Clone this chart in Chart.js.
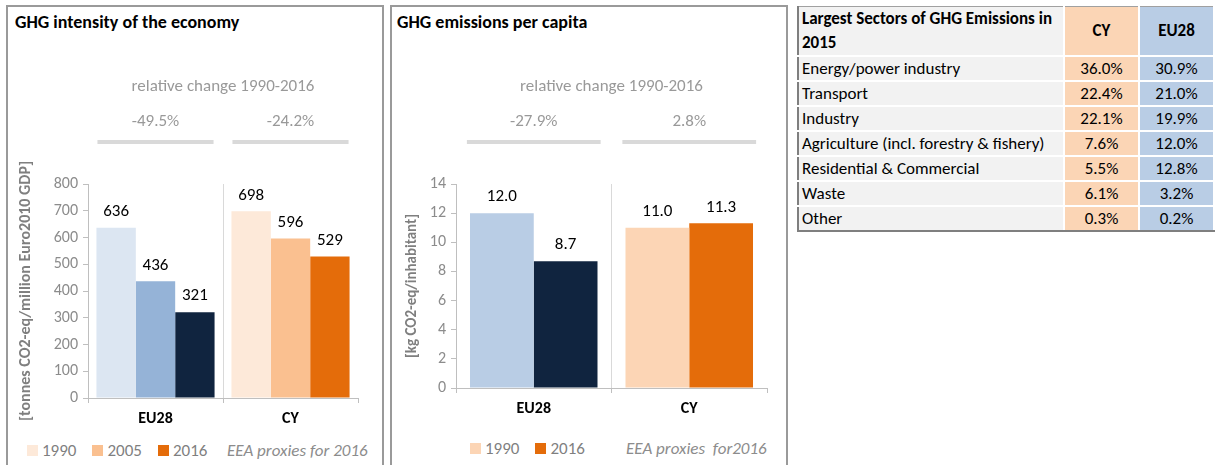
<!DOCTYPE html>
<html>
<head>
<meta charset="utf-8">
<script src="https://cdn.jsdelivr.net/npm/chart.js@4.4.1/dist/chart.umd.min.js"></script>
<style>
  body { margin: 0; width: 1215px; height: 465px; background: #fff; overflow: hidden;
         font-family: Carlito, Lato, "Open Sans", sans-serif; position: relative; }
  .panel { position: absolute; border: 2px solid #9a9a9a; background: #fff; }
  .title { position: absolute; font-weight: bold; font-size: 18px; color: #000; }
  .wrap { position: absolute; }
  .legend { position: absolute; display: flex; align-items: center; font-size: 17px; color: #7f7f7f; }
  .legend .item { display: flex; align-items: center; margin-right: 16px; }
  .legend .sq { width: 11px; height: 11px; margin-right: 4px; }
  .note { position: absolute; font-size: 17px; font-style: italic; color: #8c8c8c; }
  table { position: absolute; left: 797px; top: 6px; width: 418px; border-collapse: collapse;
          font-size: 17px; color: #000; }
  td { border: 2px solid #fff; height: 23px; padding: 0 3px; line-height: 20px; }
  td.lab { background: #f2f2f2; border-left: 2px solid #7f7f7f; text-align: left; }
  td.cy { background: #fbd5b5; text-align: center; width: 67px; }
  td.eu { background: #b9cde5; text-align: center; width: 67px; }
  tr.head td { height: 46px; font-weight: bold; border-top: 1px solid #a0a0a0; line-height: 24px; }
  tr.last td { border-bottom: 2px solid #7f7f7f; }
</style>
</head>
<body>
<div class="panel" style="left:6px; top:5px; width:374px; height:470px;"></div>
<div class="panel" style="left:390px; top:5px; width:394px; height:470px;"></div>
<div class="title" style="left:15px; top:11px;">GHG intensity of the economy</div>
<div class="title" style="left:397px; top:11px;">GHG emissions per capita</div>

<div class="wrap" style="left:8px; top:60px; width:370px; height:370px;"><canvas id="intensityChart"></canvas></div>
<div class="wrap" style="left:392px; top:60px; width:385px; height:360px;"><canvas id="capitaChart"></canvas></div>

<div class="legend" id="intensityLegend" style="left:27px; top:440px;"></div>
<div class="note" style="left:227px; top:440px;">EEA proxies for 2016</div>
<div class="legend" id="capitaLegend" style="left:470px; top:438px;"></div>
<div class="note" style="left:626px; top:438px;">EEA proxies&nbsp; for2016</div>

<table id="sectorTable"></table>

<script>
// Data
const categories = ["EU28", "CY"];

const intensityYears = ["1990", "2005", "2016"];
const intensity1990 = [636, 698];
const intensity2005 = [436, 596];
const intensity2016 = [321, 529];
const intensityChange = ["-49.5%", "-24.2%"];
const intensityTicks = [0, 100, 200, 300, 400, 500, 600, 700, 800];

const capitaYears = ["1990", "2016"];
const capita1990 = [12.0, 11.0];
const capita2016 = [8.7, 11.3];
const capitaChange = ["-27.9%", "2.8%"];
const capitaTicks = [0, 2, 4, 6, 8, 10, 12, 14];

const sectorNames = [
  "Energy/power industry",
  "Transport",
  "Industry",
  "Agriculture (incl. forestry & fishery)",
  "Residential & Commercial",
  "Waste",
  "Other",
];
const sectorCY = [36.0, 22.4, 22.1, 7.6, 5.5, 6.1, 0.3];
const sectorEU28 = [30.9, 21.0, 19.9, 12.0, 12.8, 3.2, 0.2];

// Colours: [EU28, CY] per year
const intensityColors = {
  "1990": ["#dce6f2", "#fde9d9"],
  "2005": ["#95b3d7", "#fac090"],
  "2016": ["#10243f", "#e46c0a"],
};
const capitaColors = {
  "1990": ["#b9cde5", "#fcd5b5"],
  "2016": ["#10243f", "#e46c0a"],
};

const FONT = "Carlito, Lato, 'Open Sans', sans-serif";

// Value labels above bars
const valueLabels = {
  id: "valueLabels",
  afterDatasetsDraw(chart, args, opts) {
    const ctx = chart.ctx;
    ctx.save();
    ctx.font = "17px " + FONT;
    ctx.fillStyle = "#000";
    ctx.textAlign = "center";
    ctx.textBaseline = "middle";
    chart.data.datasets.forEach((ds, i) => {
      chart.getDatasetMeta(i).data.forEach((bar, j) => {
        ctx.fillText(ds.data[j].toFixed(opts.decimals), bar.x, bar.y - 16);
      });
    });
    ctx.restore();
  },
};

// "relative change" header with gray bars over each category
const changeHeader = {
  id: "changeHeader",
  afterDraw(chart, args, opts) {
    const ctx = chart.ctx;
    const x = chart.scales.x;
    const area = chart.chartArea;
    const catW = (x.right - x.left) / categories.length;
    ctx.save();
    ctx.fillStyle = "#999";
    ctx.textAlign = "center";
    ctx.textBaseline = "middle";
    ctx.font = "17px " + FONT;
    ctx.fillText("relative change 1990-2016", (area.left + area.right) / 2, 27);
    categories.forEach((c, i) => {
      const cx = x.getPixelForValue(i);
      ctx.fillStyle = "#999";
      ctx.fillText(opts.values[i], cx, 62);
      ctx.fillStyle = "#d9d9d9";
      ctx.fillRect(cx - catW * 0.43, 80, catW * 0.86, 4);
    });
    ctx.restore();
  },
};

function makeChart(id, years, series, colors, ticks, yTitle, opts) {
  const datasets = years.map((y, i) => ({
    label: y,
    data: series[i],
    backgroundColor: colors[y],
    borderWidth: 0,
    categoryPercentage: opts.catPct,
    barPercentage: 1,
  }));
  return new Chart(document.getElementById(id).getContext("2d"), {
    type: "bar",
    data: { labels: categories, datasets: datasets },
    plugins: [valueLabels, changeHeader],
    options: {
      responsive: true,
      maintainAspectRatio: false,
      animation: false,
      layout: { padding: opts.padding },
      plugins: {
        legend: { display: false },
        tooltip: { enabled: false },
        valueLabels: { decimals: opts.decimals },
        changeHeader: { values: opts.change },
      },
      scales: {
        x: {
          offset: true,
          grid: {
            offset: true,
            color: (c) => (c.index === 1 ? "#d9d9d9" : "transparent"),
            tickColor: "#bfbfbf",
            tickLength: 5,
          },
          border: { color: "#bfbfbf" },
          ticks: { color: "#000", font: { family: FONT, size: 16, weight: "bold" }, padding: 6 },
          afterFit: (s) => { s.height = 32; },
        },
        y: {
          min: ticks[0],
          max: ticks[ticks.length - 1],
          afterBuildTicks: (s) => { s.ticks = ticks.map((v) => ({ value: v })); },
          grid: { drawOnChartArea: false, color: "#bfbfbf", tickLength: 5 },
          border: { color: "#bfbfbf" },
          ticks: { color: "#8c8c8c", font: { family: FONT, size: 16 }, padding: 5 },
          title: {
            display: true,
            text: yTitle,
            color: "#7f7f7f",
            font: { family: FONT, size: opts.titleSize, weight: "bold" },
            padding: { top: 0, bottom: 0 },
          },
          afterFit: (s) => { s.width = opts.yWidth; },
        },
      },
    },
  });
}

makeChart(
  "intensityChart",
  intensityYears,
  [intensity1990, intensity2005, intensity2016],
  intensityColors,
  intensityTicks,
  "[tonnes CO2-eq/million Euro2010 GDP]",
  { catPct: 0.875, decimals: 0, change: intensityChange, yWidth: 72, titleSize: 16,
    padding: { left: 8, right: 20, top: 124, bottom: 0 } }
);

makeChart(
  "capitaChart",
  capitaYears,
  [capita1990, capita2016],
  capitaColors,
  capitaTicks,
  "[kg CO2-eq/inhabitant]",
  { catPct: 0.82, decimals: 1, change: capitaChange, yWidth: 53, titleSize: 15,
    padding: { left: 11, right: 10, top: 124, bottom: 0 } }
);

// Legends (CY colours)
function buildLegend(id, years, colors) {
  const el = document.getElementById(id);
  years.forEach((y) => {
    const item = document.createElement("div");
    item.className = "item";
    item.innerHTML = '<div class="sq" style="background:' + colors[y][1] + '"></div>' + y;
    el.appendChild(item);
  });
}
buildLegend("intensityLegend", intensityYears, intensityColors);
buildLegend("capitaLegend", capitaYears, capitaColors);

// Sector table
const table = document.getElementById("sectorTable");
let html = '<tr class="head"><td class="lab">Largest Sectors of GHG Emissions in 2015</td>' +
  '<td class="cy">CY</td><td class="eu">EU28</td></tr>';
sectorNames.forEach((name, i) => {
  const cls = i === sectorNames.length - 1 ? ' class="last"' : "";
  html += "<tr" + cls + '><td class="lab">' + name.replace("&", "&amp;") + "</td>" +
    '<td class="cy">' + sectorCY[i].toFixed(1) + "%</td>" +
    '<td class="eu">' + sectorEU28[i].toFixed(1) + "%</td></tr>";
});
table.innerHTML = html;
</script>
</body>
</html>
